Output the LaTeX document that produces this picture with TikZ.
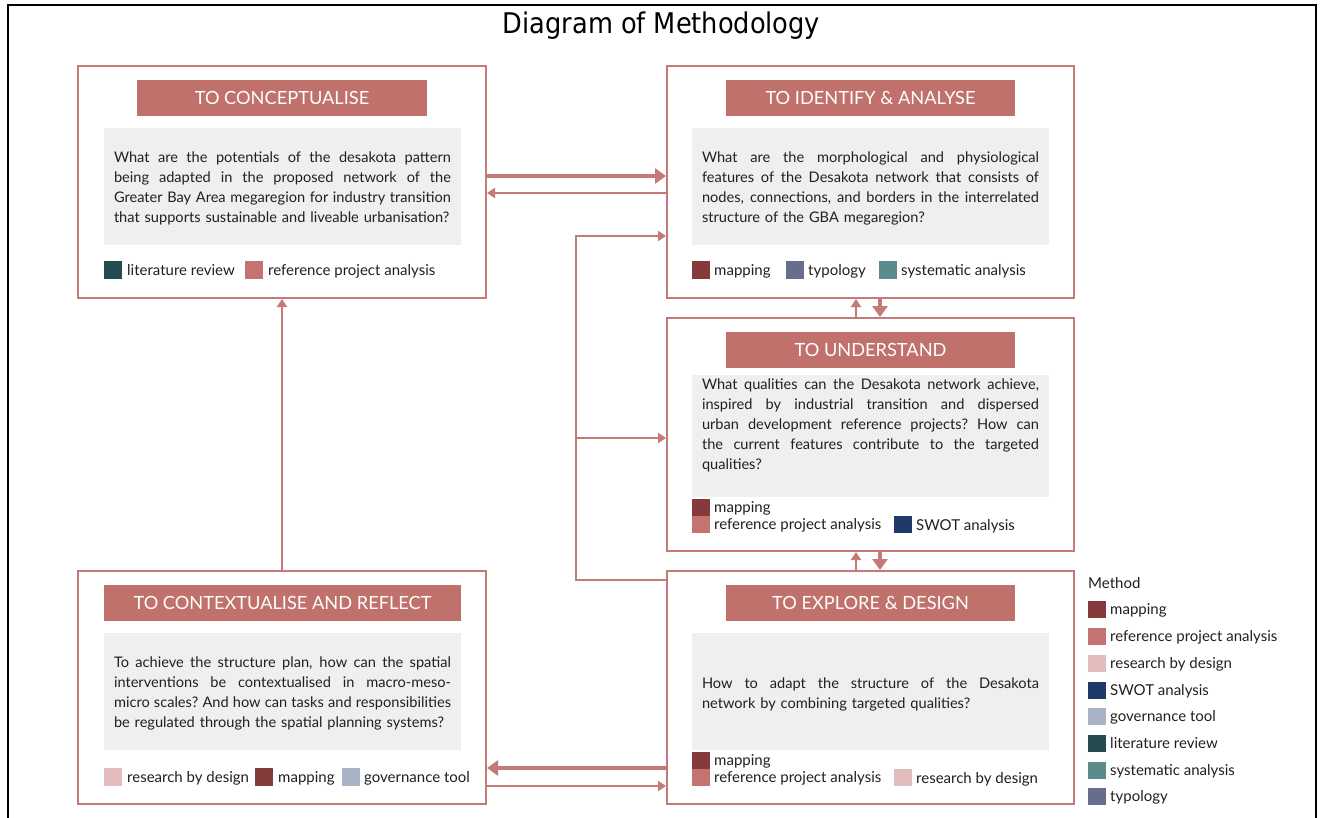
\documentclass[tikz,border=0pt]{standalone}
\usepackage{fontspec}
\setmainfont{Lato}
\newfontfamily\titlefont{DejaVu Sans Condensed}
\usetikzlibrary{arrows.meta}
\definecolor{rose}{HTML}{C47A75}
\definecolor{hdrc}{HTML}{C0716C}
\definecolor{cmap}{HTML}{853A3B}
\definecolor{cref}{HTML}{C47371}
\definecolor{crbd}{HTML}{E3BCBD}
\definecolor{cswot}{HTML}{1F3A68}
\definecolor{cgov}{HTML}{A8B3C5}
\definecolor{clit}{HTML}{244B4F}
\definecolor{csys}{HTML}{5B8B8B}
\definecolor{ctyp}{HTML}{676D8C}
\definecolor{panelc}{HTML}{EFEFEF}
\definecolor{ink}{HTML}{231F20}
\newcommand\jline[1]{\leavevmode\hbox to 337pt{\spaceskip=0.25em plus 1fil\relax\xspaceskip=\spaceskip #1}}
\newcommand\lline[1]{\leavevmode\hbox{#1}}
\begin{document}
\begin{tikzpicture}[x=1pt,y=-1pt,
  box/.style={draw=rose, line width=2pt, fill=white, inner sep=0pt},
  hdr/.style={fill=hdrc, text=white, font=\fontsize{18.2}{20}\selectfont, inner sep=0pt, minimum height=36pt},
  pnl/.style={fill=panelc, inner sep=0pt, minimum width=357pt},
  qtext/.style={text=ink, font=\fontsize{14.6}{20}\selectfont, align=left, inner sep=0pt, text width=337pt},
  sq/.style={fill=#1, minimum width=18pt, minimum height=18pt, inner sep=0pt, draw=none},
  sqs/.style={fill=#1, minimum width=18pt, minimum height=17pt, inner sep=0pt, draw=none},
  lbl/.style={anchor=base west, inner sep=0pt, text=ink, font=\fontsize{15}{17}\selectfont},
  thk/.style={draw=rose, line width=4pt, -{Triangle[length=11pt,width=15pt]}},
  thn/.style={draw=rose, line width=2pt, -{Triangle[length=8pt,width=10pt]}}
]
\useasboundingbox (0,0) rectangle (1325,817);
\draw[line width=2pt] (8,5) rectangle (1316,840);
\node[font=\titlefont\fontsize{28.5}{32}\selectfont] (title) at (661.5,26) {Diagram of Methodology};

% boxes
\node[box, minimum width=408pt, minimum height=232pt] (b1) at (282,182) {};
\node[box, minimum width=407pt, minimum height=232pt] (b2) at (870.5,182) {};
\node[box, minimum width=407pt, minimum height=233pt] (b3) at (870.5,434.5) {};
\node[box, minimum width=407pt, minimum height=233pt] (b4) at (870.5,687.5) {};
\node[box, minimum width=408pt, minimum height=233pt] (b5) at (282,687.5) {};

% headers
\node[hdr, minimum width=290pt] (h1) at (282,98) {TO CONCEPTUALISE};
\node[hdr, minimum width=289pt] (h2) at (870.5,98) {TO IDENTIFY \& ANALYSE};
\node[hdr, minimum width=289pt] (h3) at (870.5,350) {TO UNDERSTAND};
\node[hdr, minimum width=289pt] (h4) at (870.5,603) {TO EXPLORE \& DESIGN};
\node[hdr, minimum width=357pt] (h5) at (282.5,603) {TO CONTEXTUALISE AND REFLECT};

% panels
\node[pnl, minimum height=117pt] (p1) at (282.5,186.5) {};
\node[pnl, minimum height=117pt] (p2) at (870.5,186.5) {};
\node[pnl, minimum height=122pt] (p3) at (870.5,436) {};
\node[pnl, minimum height=117pt] (p4) at (870.5,691.5) {};
\node[pnl, minimum height=117pt] (p5) at (282.5,691.5) {};

% questions
\node[qtext] (q1) at (282.5,188) {\jline{What are the potentials of the desakota pattern}\\
\jline{being adapted in the proposed network of the}\\
\jline{Greater Bay Area megaregion for industry transition}\\
\lline{that supports sustainable and liveable urbanisation?}};
\node[qtext] (q2) at (870.5,188) {\jline{What are the morphological and physiological}\\
\jline{features of the Desakota network that consists of}\\
\jline{nodes, connections, and borders in the interrelated}\\
\lline{structure of the GBA megaregion?}};
\node[qtext] (q3) at (870.5,425) {\jline{What qualities can the Desakota network achieve,}\\
\jline{inspired by industrial transition and dispersed}\\
\jline{urban development reference projects? How can}\\
\jline{the current features contribute to the targeted}\\
\lline{qualities?}};
\node[qtext] (q4) at (870.5,694) {\jline{How to adapt the structure of the Desakota}\\
\lline{network by combining targeted qualities?}};
\node[qtext] (q5) at (282.5,693) {\jline{To achieve the structure plan, how can the spatial}\\
\jline{interventions be contextualised in macro-meso-}\\
\jline{micro scales? And how can tasks and responsibilities}\\
\lline{be regulated through the spatial planning systems?}};

% legends in boxes
\node[sq=clit] (s1a) at (113,270) {};
\node[lbl] (t1a) at (127,275) {literature review};
\node[sq=cref] (s1b) at (254,270) {};
\node[lbl] (t1b) at (268,275) {reference project analysis};

\node[sq=cmap] (s2a) at (701,270) {};
\node[lbl] (t2a) at (714,275) {mapping};
\node[sq=ctyp] (s2b) at (795,270) {};
\node[lbl] (t2b) at (808,275) {typology};
\node[sq=csys] (s2c) at (888,270) {};
\node[lbl] (t2c) at (901,275) {systematic analysis};

\node[sqs=cmap] (s3a) at (701,507.5) {};
\node[lbl] (t3a) at (714,512) {mapping};
\node[sqs=cref] (s3b) at (701,524.5) {};
\node[lbl] (t3b) at (714,529) {reference project analysis};
\node[sqs=cswot] (s3c) at (902.5,524.5) {};
\node[lbl] (t3c) at (916,530) {SWOT analysis};

\node[sqs=cmap] (s4a) at (701,760.5) {};
\node[lbl] (t4a) at (714,765) {mapping};
\node[sqs=cref] (s4b) at (701,777.5) {};
\node[lbl] (t4b) at (714,782) {reference project analysis};
\node[sqs=crbd] (s4c) at (902.5,777.5) {};
\node[lbl] (t4c) at (916,783) {research by design};

\node[sq=crbd] (s5a) at (113,777) {};
\node[lbl] (t5a) at (127,782) {research by design};
\node[sq=cmap] (s5b) at (264,777) {};
\node[lbl] (t5b) at (278,782) {mapping};
\node[sq=cgov] (s5c) at (351,777) {};
\node[lbl] (t5c) at (364,782) {governance tool};

% right legend
\node[lbl] (mt) at (1088,588) {Method};
\node[sqs=cmap] (m1) at (1096.5,609) {};
\node[lbl] (n1) at (1110,614) {mapping};
\node[sqs=cref] (m2) at (1096.5,636) {};
\node[lbl] (n2) at (1110,641) {reference project analysis};
\node[sqs=crbd] (m3) at (1096.5,663) {};
\node[lbl] (n3) at (1110,668) {research by design};
\node[sqs=cswot] (m4) at (1096.5,690) {};
\node[lbl] (n4) at (1110,695) {SWOT analysis};
\node[sqs=cgov] (m5) at (1096.5,716) {};
\node[lbl] (n5) at (1110,721) {governance tool};
\node[sqs=clit] (m6) at (1096.5,743) {};
\node[lbl] (n6) at (1110,748) {literature review};
\node[sqs=csys] (m7) at (1096.5,770) {};
\node[lbl] (n7) at (1110,775) {systematic analysis};
\node[sqs=ctyp] (m8) at (1096.5,796) {};
\node[lbl] (n8) at (1110,801) {typology};

% connectors
\draw[thk] (b1.east |- 0,176) -- (b2.west |- 0,176);
\draw[thn] (b2.west |- 0,193) -- (b1.east |- 0,193);

\coordinate (lpb) at (576,580);
\coordinate (lpt) at (576,236);
\coordinate (lpm) at (576,438);
\draw[thn] (b4.west |- lpb) -- (lpb) -- (lpt) -- (b2.west |- lpt);
\draw[thn] (lpm) -- (b3.west |- lpm);

\draw[thn] (b3.north -| 856,0) -- (b2.south -| 856,0);
\draw[thk] (b2.south -| 880,0) -- (b3.north -| 880,0);
\draw[thn] (b4.north -| 856,0) -- (b3.south -| 856,0);
\draw[thk] (b3.south -| 880,0) -- (b4.north -| 880,0);

\draw[thn] (b5.north) -- (b1.south);

\draw[thk] (b4.west |- 0,768) -- (b5.east |- 0,768);
\draw[thn] (b5.east |- 0,786) -- (b4.west |- 0,786);
\end{tikzpicture}
\end{document}
